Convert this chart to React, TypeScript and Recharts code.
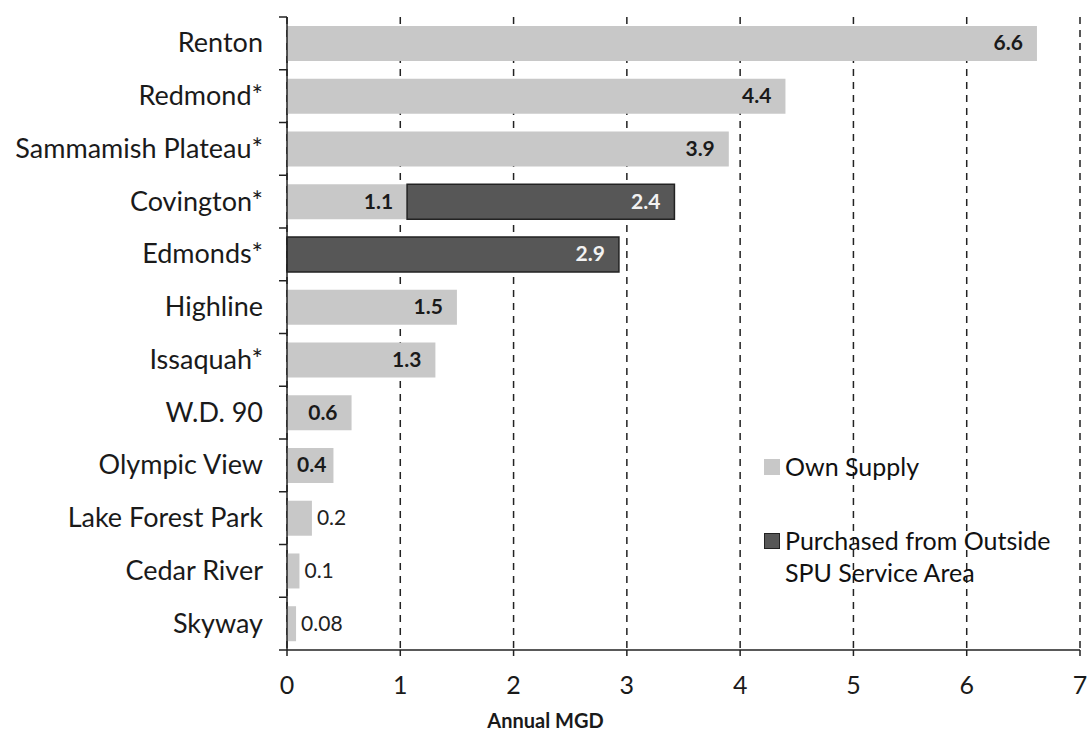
import React from "react";
import {
  Bar,
  BarChart,
  CartesianGrid,
  LabelList,
  XAxis,
  YAxis,
} from "recharts";

const categories = [
  "Renton",
  "Redmond*",
  "Sammamish Plateau*",
  "Covington*",
  "Edmonds*",
  "Highline",
  "Issaquah*",
  "W.D. 90",
  "Olympic View",
  "Lake Forest Park",
  "Cedar River",
  "Skyway",
];
const ownSupply = [6.62, 4.4, 3.9, 1.06, 0, 1.5, 1.31, 0.57, 0.41, 0.22, 0.11, 0.08];
const purchased = [0, 0, 0, 2.36, 2.93, 0, 0, 0, 0, 0, 0, 0];
const xTicks = [0, 1, 2, 3, 4, 5, 6, 7];

const series = [
  { key: "own", name: "Own Supply", color: "#c8c8c8" },
  { key: "purchased", name: "Purchased from Outside SPU Service Area", color: "#575757" },
];

const data = categories.map((name, i) => ({
  name,
  own: ownSupply[i],
  purchased: purchased[i],
}));

const W = 1090;
const H = 735;
const MARGIN = { top: 17, right: 10, bottom: 0, left: 0 };
const X_AXIS_H = 85;
const BAND = (H - MARGIN.top - MARGIN.bottom - X_AXIS_H) / categories.length;
const FONT = "Lato, 'Open Sans', sans-serif";

const fmt = (v: number) => (v < 0.1 ? v.toFixed(2) : v.toFixed(1));

// category label plus a tick mark on the boundary between bands
const CategoryTick = (props: any) => {
  const { x, y, payload, index } = props;
  const axisX = x + 24;
  return (
    <g>
      <line x1={axisX - 8} x2={axisX} y1={y - BAND / 2} y2={y - BAND / 2} stroke="#222" strokeWidth={1.5} />
      {index === categories.length - 1 && (
        <line x1={axisX - 8} x2={axisX} y1={y + BAND / 2} y2={y + BAND / 2} stroke="#222" strokeWidth={1.5} />
      )}
      <text x={x} y={y} dy={9} textAnchor="end" fontSize={27} fill="#1a1a1a" fontFamily={FONT}>
        {payload.value}
      </text>
    </g>
  );
};

const makeLabel = (fill: string) => (props: any) => {
  const { x, y, width, height, value } = props;
  if (!value) return null;
  const cy = y + height / 2 + 7;
  if (width < 30) {
    return (
      <text x={x + width + 5} y={cy} fontSize={21} fill="#222" fontFamily={FONT}>
        {fmt(value)}
      </text>
    );
  }
  const pad = width > 60 ? 14 : 7;
  return (
    <text x={x + width - pad} y={cy} textAnchor="end" fontSize={21} fontWeight={700} fill={fill} fontFamily={FONT}>
      {fmt(value)}
    </text>
  );
};

const LegendBox = () => (
  <div
    style={{
      position: "absolute",
      left: 764,
      top: 450,
      fontFamily: FONT,
      fontSize: 25,
      color: "#111",
      lineHeight: "32px",
    }}
  >
    {series.map((s, i) => (
      <div key={s.key} style={{ display: "flex", alignItems: "flex-start", marginBottom: i === 0 ? 42 : 0 }}>
        <span
          style={{
            width: 16,
            height: 16,
            marginTop: 9,
            marginRight: 5,
            background: s.color,
            border: i === 1 ? "1px solid #222" : "none",
            boxSizing: "border-box",
            flex: "none",
          }}
        />
        <span style={{ width: 285 }}>{s.name}</span>
      </div>
    ))}
  </div>
);

export default function App() {
  return (
    <div style={{ position: "absolute", left: 0, top: 0, width: W, height: H, background: "#fff" }}>
      <BarChart
        width={W}
        height={H}
        data={data}
        layout="vertical"
        margin={MARGIN}
        barCategoryGap="17%"
      >
        <CartesianGrid horizontal={false} stroke="#222" strokeWidth={1.5} strokeDasharray="7 6" />
        <XAxis
          type="number"
          domain={[0, 7]}
          ticks={xTicks}
          height={X_AXIS_H}
          tickSize={6}
          tickMargin={20}
          axisLine={{ stroke: "#222", strokeWidth: 1.5 }}
          tickLine={{ stroke: "#222", strokeWidth: 1.5 }}
          tick={{ fontSize: 25, fill: "#1a1a1a", fontFamily: FONT }}
          label={{
            value: "Annual MGD",
            position: "insideBottom",
            offset: 7,
            dx: -138,
            fontSize: 20,
            fontWeight: 700,
            fill: "#1a1a1a",
            fontFamily: FONT,
          }}
        />
        <YAxis
          type="category"
          dataKey="name"
          width={287}
          tickLine={false}
          tickSize={0}
          tickMargin={24}
          axisLine={{ stroke: "#222", strokeWidth: 1.5 }}
          tick={<CategoryTick />}
          interval={0}
        />
        {series.map((s) => (
          <Bar
            key={s.key}
            dataKey={s.key}
            name={s.name}
            stackId="a"
            fill={s.color}
            stroke={s.key === "purchased" ? "#222" : undefined}
            strokeWidth={s.key === "purchased" ? 1.5 : 0}
            isAnimationActive={false}
          >
            <LabelList dataKey={s.key} content={makeLabel(s.key === "own" ? "#1a1a1a" : "#f2f2f2")} />
          </Bar>
        ))}
      </BarChart>
      <LegendBox />
    </div>
  );
}
